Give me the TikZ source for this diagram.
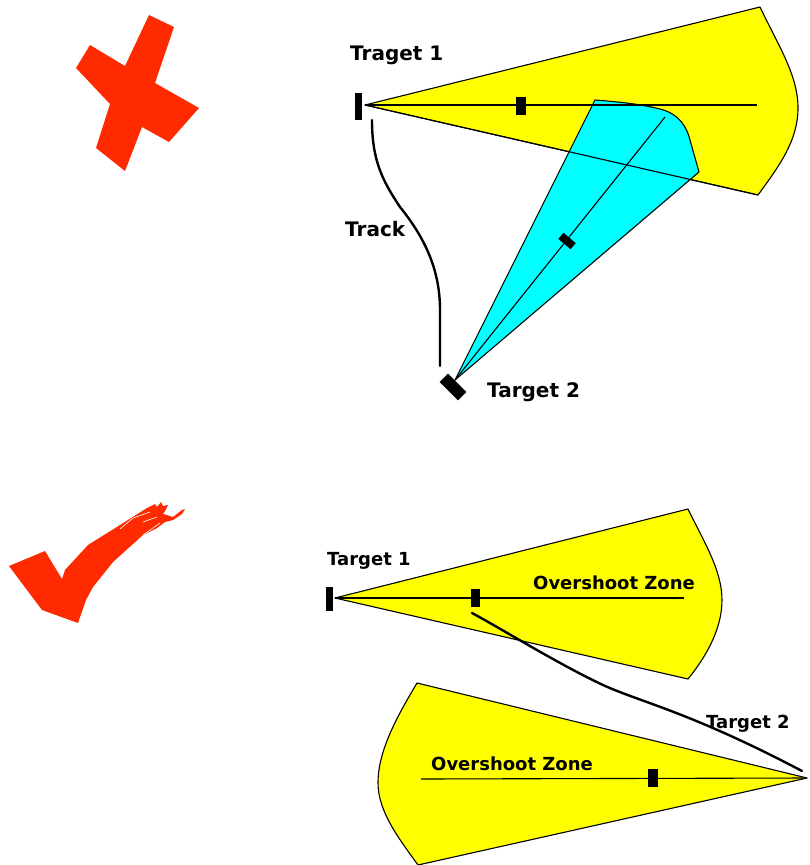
\documentclass[tikz,border=0pt]{standalone}
\usepackage{fontspec}
\setmainfont{DejaVu Sans}
\usepackage{xcolor}
\usetikzlibrary{positioning}
\definecolor{zonered}{RGB}{255,42,0}
\definecolor{zoneyellow}{RGB}{255,255,0}
\definecolor{zonecyan}{RGB}{0,255,255}

\begin{document}
\begin{tikzpicture}[x=1pt, y=-1pt, line join=round,
  every node/.style={font=\bfseries\fontsize{18}{20}\selectfont, inner sep=0pt, anchor=west},
  bigtext/.style={font=\bfseries\fontsize{20}{22}\selectfont},
  zone/.style={fill=zoneyellow, draw=black, line width=1.1pt},
  axis/.style={draw=black, line width=1.1pt},
  track/.style={draw=black, line width=2.4pt, line cap=round},
  marker/.style={fill=black, draw=none, minimum width=#1, minimum height=18pt, anchor=center}]
  \useasboundingbox (0,0) rectangle (809,865);
  % marks
  \fill[zonered] (149,15) -- (174,27) -- (155,83) -- (199,108) -- (169,142) -- (142,127) -- (125,171) -- (96,148) -- (110,104) -- (76,68) -- (90,45) -- (125,66) -- cycle;
  \fill[zonered] (9,566) -- (45,551) -- (62,579) -- (65,570) -- (88,545) -- (120,525) -- (147,508) -- (155,504) -- (157,507) -- (161,502) -- (163,506) -- (168,505) -- (165,511) -- (163,514) -- (167,515) -- (173,517) -- (182,510) -- (185,509) -- (182,514) -- (173,520) -- (165,522) -- (157,528) -- (143,535) -- (113,562) -- (93,587) -- (86,600) -- (78,623) -- (42,610) -- cycle;
  \foreach \slit in {{(120,529) -- (133,518) -- (150,512)},{(143,522) -- (157,517)},{(143,535) -- (160,523)}} \draw[white, line width=0.6pt] \slit;
  % upper picture
  \coordinate (a1) at (365,105);
  \coordinate (a2) at (455,380);
  \path[zone] (a1) -- (760,7) .. controls (778,45) and (798,75) .. (798,108) .. controls (798,140) and (780,165) .. (758,195) -- cycle;
  \path[fill=zonecyan, draw=black, line width=1.1pt] (a2) -- (595,100) .. controls (620,102) and (640,104) .. (660,109) .. controls (680,114) and (687,128) .. (690,140) -- (699,172) -- cycle;
  \draw[axis] (a1) -- (758,195);
  \draw[axis] (a1) -- (757,105);
  \draw[axis] (a2) -- (665,117);
  \node[marker=7pt, minimum height=27pt] (m1) at (358,106) {};
  \node[marker=10pt] (m2) at (521,106) {};
  \node[marker=8pt, minimum height=16pt, rotate=50] (m3) at (567,241) {};
  \node[marker=12pt, minimum height=26pt, rotate=45] (m4) at (453,387) {};
  \coordinate (t1) at (372,120);
  \coordinate (t2) at (440,366);
  \draw[track] (t1) .. controls (372,160) and (382,180) .. (400,207) .. controls (425,238) and (440,270) .. (440,310) -- (t2);
  \node[bigtext] (traget) at (350,55) {Traget 1};
  \node[bigtext] (track) at (345,229) {Track};
  \node[bigtext] (target2) at (487,392) {Target 2};
  % lower picture
  \coordinate (b1) at (335,598);
  \coordinate (b2) at (807,778);
  \path[zone] (b1) -- (688,509) .. controls (703,540) and (722,570) .. (722,600) .. controls (722,630) and (705,658) .. (688,679) -- cycle;
  \path[zone] (b2) -- (417,683) .. controls (398,715) and (378,750) .. (378,783) .. controls (378,812) and (400,840) .. (418,865) -- cycle;
  \draw[axis] (b1) -- (684,598);
  \draw[axis] (421,779) -- (b2);
  \node[marker=7pt, minimum height=24pt] (m5) at (329,599) {};
  \node[marker=9pt] (m6) at (475,598) {};
  \node[marker=10pt] (m7) at (653,778) {};
  \coordinate (t3) at (472,613);
  \coordinate (t4) at (802,771);
  \draw[track] (t3) .. controls (500,628) and (560,665) .. (603,685) .. controls (640,702) and (690,712) .. (t4);
  \node (target1) at (327,561) {Target 1};
  \node (zone1) at (533,583) {Overshoot Zone};
  \node (zone2) at (431,764) {Overshoot Zone};
  \node (target3) at (706,724) {Target 2};
\end{tikzpicture}
\end{document}
